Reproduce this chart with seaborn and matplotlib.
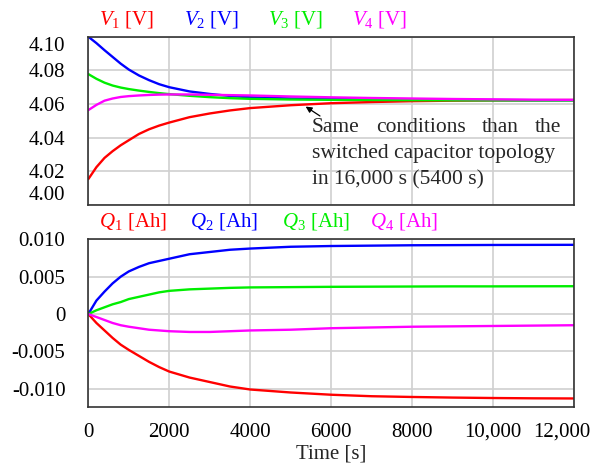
import matplotlib
matplotlib.use("Agg")
import matplotlib.pyplot as plt
import matplotlib.transforms as mtransforms
import seaborn as sns
import pandas as pd

time_s = [0, 200, 400, 600, 800, 1000, 1250, 1500, 1750, 2000, 2500, 3000, 3500, 4000,
          5000, 6000, 7000, 8000, 9000, 10000, 11000, 12000]

v1 = [4.0154, 4.0225, 4.028, 4.032, 4.0355, 4.0385, 4.0422, 4.045, 4.0472, 4.049, 4.0522,
      4.0544, 4.0562, 4.0576, 4.0593, 4.0605, 4.0612, 4.0617, 4.062, 4.0622, 4.0623, 4.0624]
v2 = [4.100, 4.0962, 4.092, 4.088, 4.084, 4.0805, 4.077, 4.0742, 4.0718, 4.070, 4.0675,
      4.066, 4.0648, 4.064, 4.0633, 4.063, 4.0627, 4.0626, 4.0625, 4.0624, 4.0623, 4.0623]
v3 = [4.0778, 4.0750, 4.0727, 4.0710, 4.0698, 4.0689, 4.0680, 4.0672, 4.0665, 4.0659, 4.0649,
      4.0641, 4.0635, 4.0631, 4.0627, 4.0625, 4.0624, 4.0623, 4.0622, 4.0622, 4.0622, 4.0622]
v4 = [4.0564, 4.0595, 4.062, 4.0633, 4.0642, 4.0647, 4.0651, 4.0654, 4.0656, 4.0657, 4.0657,
      4.0655, 4.0653, 4.0651, 4.0645, 4.064, 4.0636, 4.0633, 4.063, 4.0628, 4.0626, 4.0625]

q1 = [0, -0.0012, -0.0022, -0.0032, -0.0041, -0.0048, -0.0056, -0.0064, -0.0071, -0.0077, -0.0085,
      -0.0091, -0.0097, -0.0101, -0.0105, -0.0108, -0.0110, -0.0111, -0.01118, -0.01124, -0.01128, -0.0113]
q2 = [0, 0.0018, 0.0030, 0.0041, 0.0050, 0.0057, 0.0063, 0.0068, 0.0071, 0.0074, 0.0080,
      0.0083, 0.0086, 0.00876, 0.0090, 0.0091, 0.00915, 0.0092, 0.00922, 0.00924, 0.00925, 0.00926]
q3 = [0, 0.0005, 0.0009, 0.0013, 0.0016, 0.0020, 0.0023, 0.0026, 0.0029, 0.0031, 0.0033,
      0.0034, 0.0035, 0.00356, 0.0036, 0.00364, 0.00366, 0.00368, 0.0037, 0.0037, 0.00371, 0.00372]
q4 = [0, -0.0004, -0.0008, -0.0012, -0.0015, -0.0017, -0.0019, -0.0021, -0.0022, -0.0023, -0.0024,
      -0.0024, -0.0023, -0.0022, -0.0021, -0.0019, -0.0018, -0.0017, -0.00165, -0.0016, -0.00155, -0.0015]

v_ticks = [4.00, 4.02, 4.04, 4.06, 4.08, 4.10]
v_tick_labels = ["4.00", "4.02", "4.04", "4.06", "4.08", "4.10"]
q_ticks = [-0.010, -0.005, 0, 0.005, 0.010]
q_tick_labels = ["-0.010", "-0.005", "0", "0.005", "0.010"]
x_ticks = [0, 2000, 4000, 6000, 8000, 10000, 12000]
x_tick_labels = ["0", "2000", "4000", "6000", "8000", "10,000", "12,000"]

v_names = ["V1", "V2", "V3", "V4"]
q_names = ["Q1", "Q2", "Q3", "Q4"]
colors = ["#ff0000", "#0000ff", "#00ee00", "#ff00ff"]

sns.set_theme(style="white")
plt.rcParams["font.family"] = ["Liberation Serif", "DejaVu Serif"]
plt.rcParams["mathtext.fontset"] = "custom"
plt.rcParams["mathtext.rm"] = "Liberation Serif"
plt.rcParams["mathtext.it"] = "Liberation Serif:italic"

vdf = pd.DataFrame({"t": time_s * 4,
                    "val": v1 + v2 + v3 + v4,
                    "s": sum([[n] * len(time_s) for n in v_names], [])})
qdf = pd.DataFrame({"t": time_s * 4,
                    "val": q1 + q2 + q3 + q4,
                    "s": sum([[n] * len(time_s) for n in q_names], [])})

fig = plt.figure(figsize=(5.92, 4.65), dpi=100)
ax1 = fig.add_axes([0.1492, 0.5591, 0.8204, 0.3619])
ax2 = fig.add_axes([0.1492, 0.1254, 0.8204, 0.3600])

sns.lineplot(data=vdf, x="t", y="val", hue="s", palette=dict(zip(v_names, colors)),
             legend=False, ax=ax1, linewidth=1.7)
sns.lineplot(data=qdf, x="t", y="val", hue="s", palette=dict(zip(q_names, colors)),
             legend=False, ax=ax2, linewidth=1.7)

fs = 15
for ax in (ax1, ax2):
    ax.set_xlim(0, 12000)
    ax.set_xticks(x_ticks)
    ax.grid(True, color="#d0d0d0", linewidth=1.2)
    ax.set_xlabel("")
    ax.set_ylabel("")
    ax.tick_params(length=0, labelsize=fs, colors="black")
    ax.tick_params(axis="y", pad=16.5)
    ax.tick_params(axis="x", pad=11.5)
    for sp in ax.spines.values():
        sp.set_color("#333333")
        sp.set_linewidth(1.2)

ax1.set_ylim(4.00, 4.10)
ax1.set_yticks(v_ticks)
ax1.set_yticklabels(v_tick_labels)
ax1.set_xticklabels([])
labs = ax1.get_yticklabels()
labs[0].set_va("bottom")
labs[-1].set_va("top")

ax2.set_ylim(-0.0124, 0.010)
ax2.set_yticks(q_ticks)
ax2.set_yticklabels(q_tick_labels)
ax2.set_xticklabels(x_tick_labels)
ax2.set_xlabel("Time [s]", fontsize=fs, labelpad=2)
xl = ax2.get_xticklabels()
xl[-1].set_transform(xl[-1].get_transform() +
                     mtransforms.ScaledTranslation(-0.12, 0, fig.dpi_scale_trans))

# series labels above panels
v_label_x = [99, 184, 268, 352]
q_label_x = [99, 190, 282, 370]
for i in range(4):
    fig.text(v_label_x[i] / 592, 1 - 19 / 465,
             r"$\mathit{V}_{\mathit{%d}}$ [V]" % (i + 1),
             color=colors[i], fontsize=fs, va="center", ha="left")
    fig.text(q_label_x[i] / 592, 1 - 221 / 465,
             r"$\mathit{Q}_{\mathit{%d}}$ [Ah]" % (i + 1),
             color=colors[i], fontsize=fs, va="center", ha="left")

# annotation arrow
ax1.annotate("", xy=(5312, 4.0594), xytext=(5781, 4.052),
             arrowprops=dict(arrowstyle="-|>", color="black", lw=0.9,
                             mutation_scale=9))

afs = 15.5
x_left, x_right = 5527, 11679
ax1.text(x_left, 4.0309, "switched capacitor topology", fontsize=afs, va="center", ha="left")
ax1.text(x_left, 4.0149, "in 16,000 s (5400 s)", fontsize=afs, va="center", ha="left")
words = ["Same", "conditions", "than", "the"]
fig.canvas.draw()
renderer = fig.canvas.get_renderer()
tmp = [ax1.text(0, 4.046, w, fontsize=afs, va="center", ha="left") for w in words]
inv = ax1.transData.inverted()
widths = []
for t in tmp:
    bb = t.get_window_extent(renderer)
    x0 = inv.transform((bb.x0, bb.y0))[0]
    x1 = inv.transform((bb.x1, bb.y0))[0]
    widths.append(x1 - x0)
    t.remove()
gap = (x_right - x_left - sum(widths)) / (len(words) - 1)
xpos = x_left
for w, wd in zip(words, widths):
    ax1.text(xpos, 4.0458, w, fontsize=afs, va="center", ha="left")
    xpos += wd + gap

fig.savefig("out.png", dpi=100)
